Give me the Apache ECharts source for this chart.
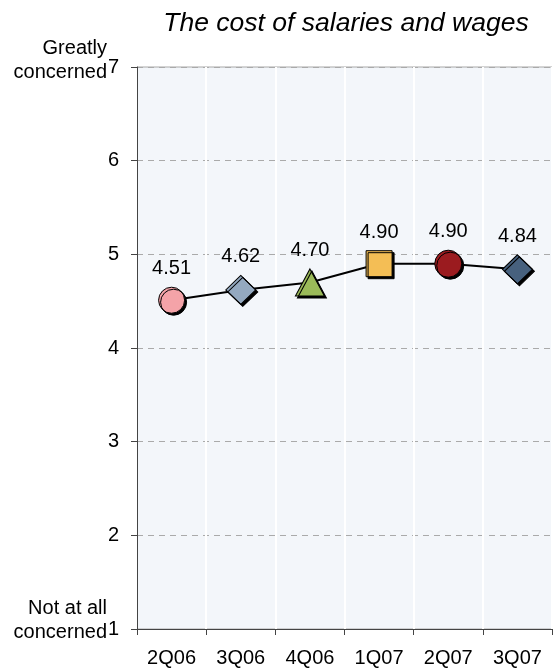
<!DOCTYPE html>
<html>
<head>
<meta charset="utf-8">
<script src="https://cdn.jsdelivr.net/npm/echarts@6/dist/echarts.min.js"></script>
<style>
  html, body { margin: 0; padding: 0; background: #fff; }
  #chart { width: 555px; height: 669px; }
</style>
</head>
<body>
<div id="chart"></div>
<script>
// Quarterly survey: concern about the cost of salaries and wages (1-7 scale)
var categories = ['2Q06', '3Q06', '4Q06', '1Q07', '2Q07', '3Q07'];
var values = [4.51, 4.62, 4.70, 4.90, 4.90, 4.84];
var yTicks = [1, 2, 3, 4, 5, 6, 7];
var topScaleLabel = 'Greatly\nconcerned';
var bottomScaleLabel = 'Not at all\nconcerned';
var titleText = 'The cost of salaries and wages';

// Marker look for each quarter
var markerShapes = ['circle', 'diamond', 'triangle', 'rect', 'circle', 'diamond'];
var markerSizes = [26, [30, 29], [29, 27], 26, 27, [30, 29]];
var markerColors = ['#F4A3A8', '#94A9C0', '#9BBB59', '#F4BE55', '#9B1B1F', '#47617E'];

var FONT = '"Liberation Sans", Arial, sans-serif';

var seriesData = values.map(function (v, i) {
  return {
    value: v,
    symbol: markerShapes[i],
    symbolSize: markerSizes[i],
    itemStyle: { color: markerColors[i] }
  };
});

var chart = echarts.init(document.getElementById('chart'), null, { renderer: 'canvas' });

chart.setOption({
  animation: false,
  backgroundColor: '#ffffff',
  title: {
    text: titleText,
    left: 341,
    textAlign: 'center',
    top: 5,
    textStyle: {
      fontFamily: FONT,
      fontStyle: 'italic',
      fontWeight: 'normal',
      fontSize: 26.5,
      color: '#000'
    }
  },
  grid: {
    left: 137,
    right: 3,
    top: 67,
    bottom: 40,
    show: true,
    backgroundColor: '#F3F6FA',
    borderColor: '#A8A8A8',
    borderWidth: 1
  },
  xAxis: {
    type: 'category',
    data: categories,
    boundaryGap: true,
    axisLine: { lineStyle: { color: '#444', width: 1 } },
    axisTick: { show: true, length: 6, lineStyle: { color: '#444' } },
    axisLabel: {
      fontFamily: FONT,
      fontSize: 20,
      color: '#000',
      margin: 19
    },
    splitLine: { show: true, lineStyle: { color: '#ffffff', width: 2 } }
  },
  yAxis: {
    type: 'value',
    min: yTicks[0],
    max: yTicks[yTicks.length - 1],
    interval: 1,
    axisLine: { show: true, lineStyle: { color: '#444', width: 1 } },
    axisTick: { show: true, length: 6, lineStyle: { color: '#444' } },
    axisLabel: {
      fontFamily: FONT,
      fontSize: 20,
      color: '#000',
      margin: 18
    },
    splitLine: { show: true, lineStyle: { color: '#AAAAAA', type: [6, 5], width: 1 } }
  },
  graphic: [
    {
      type: 'text',
      x: 107,
      y: 60,
      style: {
        text: topScaleLabel,
        font: '20px ' + FONT,
        fill: '#000',
        align: 'right',
        verticalAlign: 'middle',
        lineHeight: 24
      }
    },
    {
      type: 'text',
      x: 107,
      y: 620,
      style: {
        text: bottomScaleLabel,
        font: '20px ' + FONT,
        fill: '#000',
        align: 'right',
        verticalAlign: 'middle',
        lineHeight: 24
      }
    }
  ],
  series: [
    {
      type: 'line',
      data: seriesData,
      lineStyle: { color: '#000', width: 2 },
      itemStyle: {
        borderColor: '#000',
        borderWidth: 1,
        shadowColor: '#000',
        shadowOffsetX: 2,
        shadowOffsetY: 2,
        shadowBlur: 0
      },
      label: {
        show: true,
        position: 'top',
        distance: 8,
        fontFamily: FONT,
        fontSize: 20,
        color: '#000',
        formatter: function (p) { return p.value.toFixed(2); }
      },
      emphasis: { disabled: true }
    }
  ]
});
</script>
</body>
</html>
